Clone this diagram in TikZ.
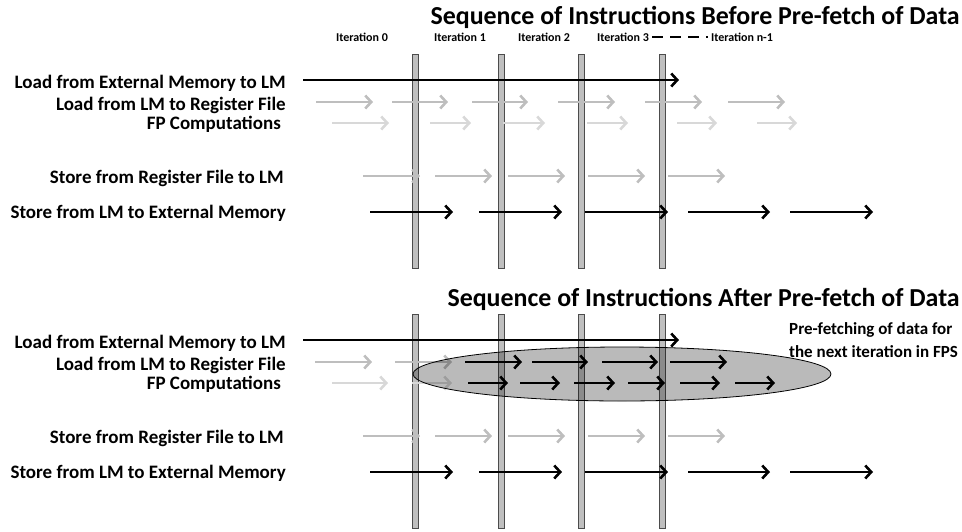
\documentclass[tikz,border=0pt]{standalone}
\usepackage{fontspec}
\setmainfont{Carlito}
\usetikzlibrary{arrows.meta}
\usetikzlibrary{shapes.geometric}
\definecolor{bargray}{RGB}{191,191,191}
\definecolor{midgray}{RGB}{190,190,190}
\definecolor{palegray}{RGB}{216,216,216}

\begin{document}
\begin{tikzpicture}[x=1pt, y=-1pt,
    tip/.style={-{Straight Barb[length=6pt,width=13pt]}},
    blackarrow/.style={tip, line width=2.6pt, black},
    grayarrow/.style={tip, line width=2.6pt, midgray},
    palearrow/.style={tip, line width=2.6pt, palegray},
    bar/.style={draw=black!70, fill=bargray, line width=0.8pt, minimum width=6pt, minimum height=214pt, inner sep=0pt},
    rowlabel/.style={anchor=east, inner sep=0pt, font=\fontsize{19}{22}\selectfont\bfseries},
    itlabel/.style={inner sep=0pt, font=\fontsize{12}{14}\selectfont\bfseries},
    title/.style={anchor=east, inner sep=0pt, font=\fontsize{25.9}{30}\selectfont\bfseries}]
    \useasboundingbox (0,0) rectangle (962,531);

    \node[title] (before) at (960,17)  {Sequence of Instructions Before Pre-fetch of Data};
    \node[title] (after)  at (960,299) {Sequence of Instructions After Pre-fetch of Data};

    \node[itlabel] (it0) at (362,37) {Iteration 0};
    \node[itlabel] (it1) at (460,37) {Iteration 1};
    \node[itlabel] (it2) at (544,37) {Iteration 2};
    \node[itlabel] (it3) at (623,37) {Iteration 3};
    \node[itlabel] (itn) at (742,37) {Iteration n-1};
    \draw[line width=2.5pt, dash pattern=on 11pt off 7pt] ([xshift=3pt]it3.east) -- ([xshift=-3pt]itn.west);

    \foreach \s/\yo in {b/0, a/260} {
        \node[rowlabel] (\s-ext)   at (286,{83+\yo})  {Load from External Memory to LM};
        \node[rowlabel] (\s-reg)   at (286,{105+\yo}) {Load from LM to Register File};
        \node[rowlabel] (\s-fp)    at (281,{124+\yo}) {FP Computations};
        \node[rowlabel] (\s-store) at (284,{178+\yo}) {Store from Register File to LM};
        \node[rowlabel] (\s-out)   at (286,{213+\yo}) {Store from LM to External Memory};

        \foreach \x [count=\i] in {415,501,581,662}
            \node[bar] (\s-bar\i) at (\x,{161+\yo}) {};

        \coordinate (\s-ls) at (303,{80+\yo});
        \coordinate (\s-le) at (679,{80+\yo});
        \draw[blackarrow] (\s-ls) -- (\s-le);

        \foreach \p/\q [count=\i] in {363/420, 435/492, 508/565, 588/645, 668/725} {
            \coordinate (\s-r4s\i) at (\p,{176+\yo});
            \coordinate (\s-r4e\i) at (\q,{176+\yo});
            \draw[grayarrow] (\s-r4s\i) -- (\s-r4e\i);
        }
        \foreach \p/\q [count=\i] in {370/453, 479/562, 585/668, 688/770, 790/873} {
            \coordinate (\s-r5s\i) at (\p,{212+\yo});
            \coordinate (\s-r5e\i) at (\q,{212+\yo});
            \draw[blackarrow] (\s-r5s\i) -- (\s-r5e\i);
        }
    }

    % before pre-fetch
    \foreach \p/\q [count=\i] in {316/373, 392/448, 472/528, 558/615, 645/702, 728/785} {
        \coordinate (b-r2s\i) at (\p,102);
        \coordinate (b-r2e\i) at (\q,102);
        \draw[grayarrow] (b-r2s\i) -- (b-r2e\i);
    }
    \foreach \p/\q [count=\i] in {332/389, 430/471, 503/545, 587/628, 677/717, 757/797} {
        \coordinate (b-r3s\i) at (\p,123);
        \coordinate (b-r3e\i) at (\q,123);
        \draw[palearrow] (b-r3s\i) -- (b-r3e\i);
    }

    % after pre-fetch
    \foreach \p/\q [count=\i] in {315/372, 395/452} {
        \coordinate (a-r2s\i) at (\p,362);
        \coordinate (a-r2e\i) at (\q,362);
        \draw[grayarrow] (a-r2s\i) -- (a-r2e\i);
    }
    \foreach \p/\q [count=\i] in {332/388, 412/452} {
        \coordinate (a-r3s\i) at (\p,383);
        \coordinate (a-r3e\i) at (\q,383);
        \draw[palearrow] (a-r3s\i) -- (a-r3e\i);
    }

    \node[draw, ellipse, line width=0.8pt, fill=black, fill opacity=0.27, draw opacity=1,
          minimum width=418pt, minimum height=54pt, inner sep=0pt] (zone) at (622,374) {};

    \foreach \p/\q [count=\i] in {465/522, 532/588, 602/658, 670/727} {
        \coordinate (a-f2s\i) at (\p,362);
        \coordinate (a-f2e\i) at (\q,362);
        \draw[blackarrow] (a-f2s\i) -- (a-f2e\i);
    }
    \foreach \p/\q [count=\i] in {468/508, 520/560, 574/615, 628/665, 680/720, 735/775} {
        \coordinate (a-f3s\i) at (\p,383);
        \coordinate (a-f3e\i) at (\q,383);
        \draw[blackarrow] (a-f3s\i) -- (a-f3e\i);
    }

    \node[anchor=west, align=left, inner sep=0pt, font=\fontsize{17}{23}\selectfont\bfseries] (note) at (789,340)
        {Pre-fetching of data for\\the next iteration in FPS};
\end{tikzpicture}
\end{document}
